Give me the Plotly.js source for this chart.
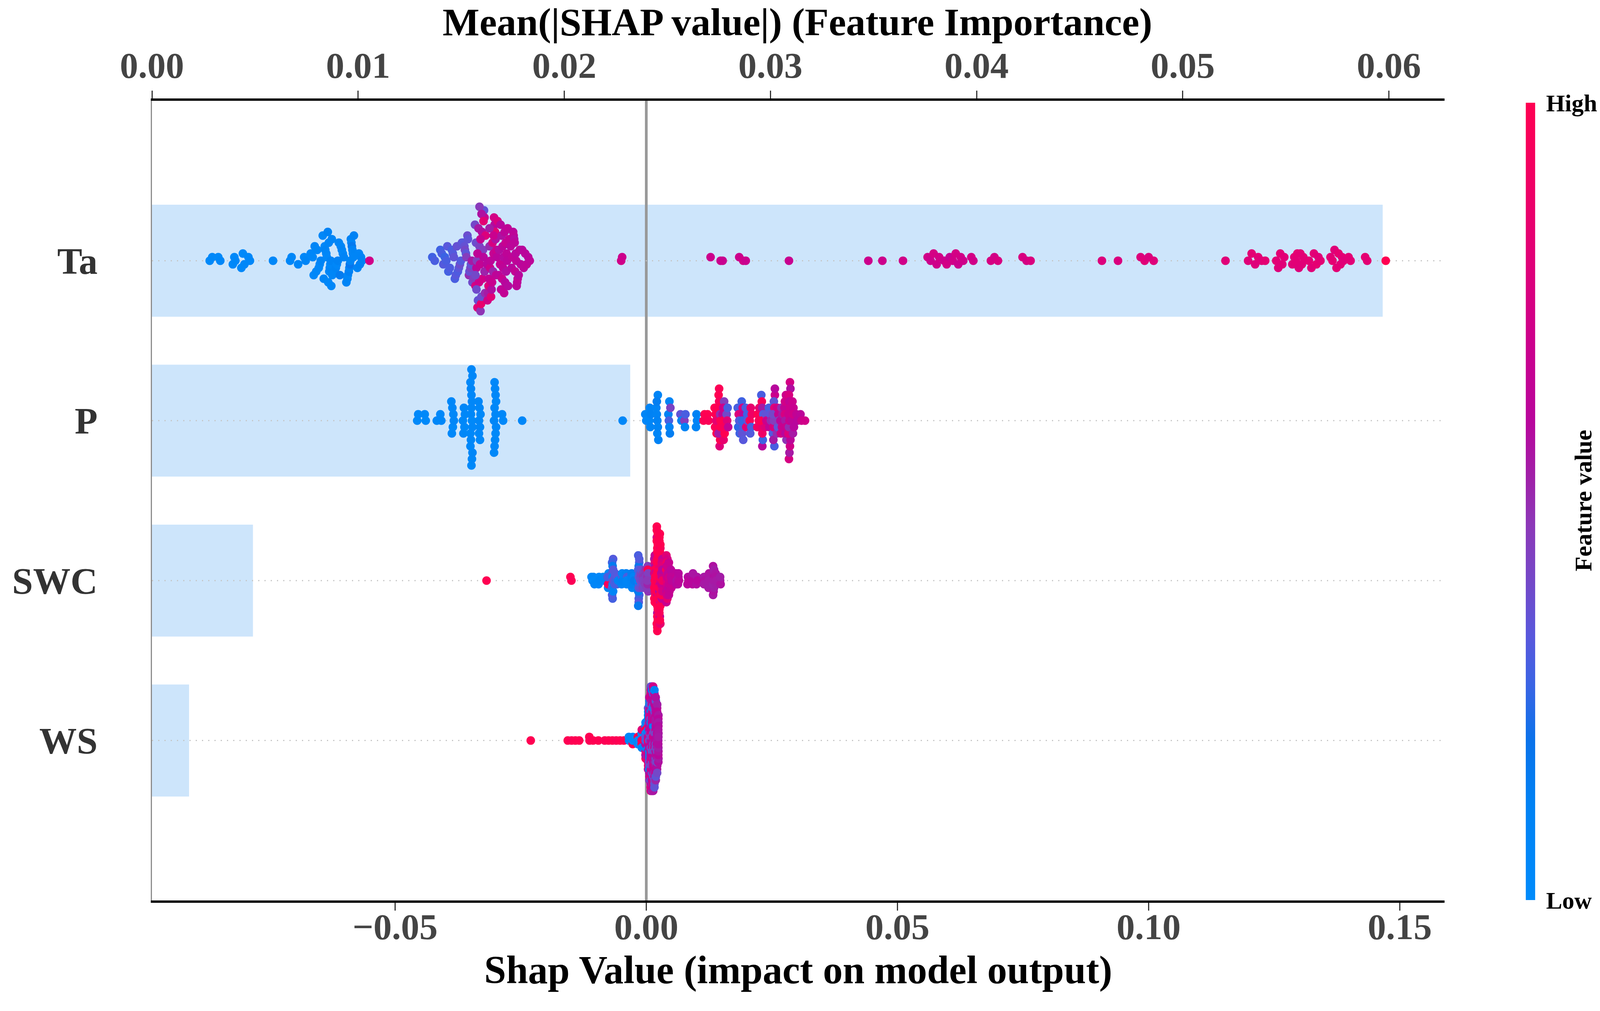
<!DOCTYPE html>
<html>
<head>
<meta charset="utf-8">
<script src="https://cdn.plot.ly/plotly-3.0.1.min.js"></script>
<style>html,body{margin:0;padding:0;background:#fff;overflow:hidden;}#chart{width:4172px;height:2588px;}</style>
</head>
<body>
<div id="chart"></div>
<script>
// ---------------- DATA ----------------
const FEATURES = ['Ta', 'P', 'SWC', 'WS'];
const MEAN_ABS_SHAP = [0.0597, 0.0232, 0.0049, 0.0018];
const TOP_TICK_LABELS = ['0.00', '0.01', '0.02', '0.03', '0.04', '0.05', '0.06'];
const BOTTOM_TICK_LABELS = ['\u22120.05', '0.00', '0.05', '0.10', '0.15'];
const TOP_TITLE = 'Mean(|SHAP value|) (Feature Importance)';
const BOTTOM_TITLE = 'Shap Value (impact on model output)';
const COLORBAR_TITLE = 'Feature value';

// Ta: SHAP values and normalised feature values (0 = low, 1 = high)
const taShap = [
  -0.0869,-0.0864,-0.0852,-0.0848,-0.0823,-0.0820,-0.0818,-0.0806,-0.0803,-0.0800,-0.0792,-0.0789,-0.0743,-0.0709,-0.0706,-0.0693,-0.0681,-0.0678,
  -0.0668,-0.0664,-0.0662,-0.0660,-0.0657,-0.0655,-0.0652,-0.0650,-0.0648,
  -0.0644,-0.0642,-0.0640,-0.0639,-0.0637,-0.0636,-0.0634,-0.0633,-0.0632,-0.0631,-0.0630,-0.0629,-0.0628,-0.0627,-0.0626,-0.0625,
  -0.0620,-0.0618,-0.0616,-0.0614,-0.0612,-0.0610,-0.0608,-0.0606,-0.0604,-0.0602,
  -0.0597,-0.0595,-0.0594,-0.0592,-0.0591,-0.0590,-0.0589,-0.0588,-0.0587,-0.0586,-0.0585,-0.0584,-0.0583,-0.0582,
  -0.0575,-0.0572,-0.0570,-0.0568,-0.0566,
  -0.0551,
  -0.0426,-0.0421,
  -0.0410,-0.0407,-0.0404,-0.0401,-0.0398,-0.0396,-0.0394,-0.0391,
  -0.0387,-0.0385,-0.0383,-0.0381,-0.0379,-0.0377,-0.0375,-0.0373,-0.0371,-0.0369,-0.0367,
  -0.0364,-0.0362,-0.0361,-0.0359,-0.0358,-0.0356,-0.0355,-0.0353,-0.0352,-0.0350,-0.0349,-0.0347,-0.0346,-0.0344,
  -0.0341,-0.0340,-0.0339,-0.0338,-0.0337,-0.0336,-0.0335,-0.0334,-0.0333,-0.0332,-0.0331,-0.0330,-0.0329,-0.0328,-0.0327,
  -0.0326,-0.0325,-0.0324,-0.0323,-0.0322,-0.0321,-0.0320,-0.0340,-0.0336,-0.0332,-0.0328,-0.0324,-0.0338,-0.0330,-0.0322,
  -0.0317,-0.0316,-0.0315,-0.0314,-0.0313,-0.0312,-0.0311,-0.0310,-0.0309,-0.0308,-0.0307,-0.0306,
  -0.0305,-0.0304,-0.0303,-0.0302,-0.0301,-0.0300,-0.0299,-0.0298,-0.0297,-0.0296,-0.0312,-0.0304,
  -0.0294,-0.0293,-0.0291,-0.0290,-0.0289,-0.0288,-0.0287,-0.0286,-0.0285,-0.0284,
  -0.0283,-0.0282,-0.0281,-0.0280,-0.0279,-0.0278,-0.0277,-0.0276,-0.0275,-0.0273,
  -0.0270,-0.0268,-0.0267,-0.0265,-0.0264,-0.0263,-0.0262,-0.0261,-0.0260,-0.0259,-0.0258,-0.0257,-0.0256,-0.0254,-0.0252,-0.0250,
  -0.0247,-0.0244,-0.0241,-0.0238,-0.0235,-0.0232,
  -0.0050,-0.0048,
  0.0128, 0.0148,0.0152, 0.0185,0.0193,0.0198, 0.0284, 0.0442, 0.0470, 0.0511,
  0.0560,0.0566,0.0572,0.0578,0.0583,
  0.0593,0.0598,0.0604,0.0610,0.0616,0.0621,0.0626,0.0631,
  0.0647,0.0651, 0.0686,0.0693,0.0700, 0.0749,0.0757,0.0765, 0.0907, 0.0939,
  0.0984,0.0992,0.1000,0.1010, 0.1153,
  0.1198,0.1205,0.1212,0.1218,0.1225,0.1232,
  0.1254,0.1258,0.1262,0.1266,0.1270,
  0.1286,0.1290,0.1293,0.1296,0.1299,0.1302,0.1305,0.1308,
  0.1319,0.1324,0.1329,0.1334,0.1338,0.1342,
  0.1362,0.1366,0.1370,0.1374,0.1378,0.1382,0.1385,0.1388,
  0.1398,0.1402, 0.1431,0.1435, 0.1472
];
const taVal = [
  0.03,0.04,0.03,0.05,0.04,0.03,0.05,0.04,0.03,0.06,0.04,0.05,0.05,0.06,0.05,0.07,0.06,0.08,
  0.05,0.06,0.04,0.08,0.05,0.07,0.06,0.05,0.09,
  0.06,0.08,0.05,0.10,0.07,0.06,0.12,0.05,0.08,0.07,0.09,0.06,0.11,0.05,0.08,0.07,
  0.07,0.09,0.06,0.12,0.08,0.15,0.07,0.10,0.06,0.09,
  0.08,0.10,0.07,0.13,0.09,0.18,0.08,0.11,0.07,0.16,0.09,0.10,0.08,0.12,
  0.10,0.08,0.12,0.09,0.11,
  0.72,
  0.28,0.30,
  0.28,0.30,0.32,0.27,0.30,0.33,0.29,0.31,
  0.30,0.32,0.35,0.30,0.33,0.36,0.31,0.34,0.38,0.32,0.35,
  0.33,0.36,0.40,0.34,0.45,0.38,0.35,0.50,0.37,0.42,0.36,0.55,0.39,0.44,
  0.40,0.75,0.38,0.62,0.45,0.80,0.36,0.55,0.70,0.42,0.65,0.48,0.85,0.38,0.58,
  0.72,0.44,0.60,0.35,0.68,0.50,0.78,0.40,0.63,0.46,0.57,0.82,0.39,0.66,0.52,
  0.60,0.72,0.55,0.78,0.65,0.50,0.70,0.62,0.80,0.58,0.68,0.75,
  0.52,0.66,0.73,0.60,0.82,0.57,0.64,0.70,0.61,0.76,0.54,0.69,
  0.62,0.58,0.66,0.60,0.64,0.57,0.68,0.61,0.63,0.59,
  0.65,0.62,0.60,0.67,0.58,0.63,0.61,0.64,0.59,0.66,
  0.62,0.60,0.64,0.61,0.63,0.59,0.62,0.65,0.60,0.63,0.61,0.62,0.64,0.60,0.63,0.61,
  0.60,0.62,0.61,0.63,0.60,0.62,
  0.72,0.70,
  0.70, 0.70,0.68, 0.70,0.72,0.69, 0.68, 0.70, 0.70, 0.72,
  0.72,0.70,0.74,0.71,0.73,
  0.70,0.73,0.66,0.72,0.74,0.69,0.73,0.71,
  0.74,0.72, 0.75,0.73,0.76, 0.76,0.74,0.77, 0.78, 0.77,
  0.78,0.80,0.77,0.79, 0.80,
  0.80,0.82,0.79,0.81,0.80,0.82,
  0.81,0.79,0.82,0.80,0.81,
  0.80,0.82,0.81,0.83,0.79,0.82,0.80,0.81,
  0.82,0.80,0.81,0.83,0.80,0.82,
  0.81,0.83,0.80,0.82,0.84,0.81,0.82,0.80,
  0.82,0.81, 0.83,0.82, 1.00
];

// P
const pShap = [
  -0.0456,-0.0454, -0.0441,-0.0439, -0.0417, -0.0410,-0.0408,
  -0.0388,-0.0387,-0.0386,-0.0385,-0.0384,-0.0383,
  -0.0365,-0.0364,-0.0363,-0.0362,-0.0361,
  -0.0350,-0.0349,-0.0348,-0.0347,-0.0346,-0.0350,-0.0349,-0.0348,-0.0347,-0.0346,-0.0350,-0.0349,-0.0348,-0.0347,-0.0346,-0.0348,
  -0.0334,-0.0333,-0.0332,-0.0331,-0.0330,-0.0333,-0.0331,
  -0.0303,-0.0302,-0.0301,-0.0300,-0.0299,-0.0303,-0.0302,-0.0301,-0.0300,-0.0299,-0.0302,-0.0300,
  -0.0287,-0.0285, -0.0247, -0.0047,
  -0.0002,0.0000, 0.0006,0.0007,0.0008,0.0009,
  0.0020,0.0021,0.0022,0.0023,0.0024,0.0021,0.0022,0.0023,
  0.0044,0.0045,0.0046,0.0047,0.0048,0.0046,
  0.0068,0.0070, 0.0076,0.0077,0.0078, 0.0099,0.0100,0.0101,
  0.0114,0.0116, 0.0122,0.0124,
  0.0136,0.0137,0.0138,0.0139,0.0140,
  0.0144,0.0145,0.0146,0.0147,0.0148,0.0145,0.0146,0.0147,0.0144,0.0148,
  0.0152,0.0153,0.0154,0.0155,0.0156,0.0153,0.0155,
  0.0160,0.0161,0.0162,0.0163,
  0.0182,0.0183,0.0184,0.0185,0.0186,
  0.0190,0.0191,0.0192,0.0193,0.0194,0.0191,0.0193,
  0.0198,0.0199,0.0201,0.0202,
  0.0206,0.0207,0.0208,0.0209,0.0210,
  0.0221,0.0222,0.0224,0.0225,
  0.0229,0.0230,0.0231,0.0232,0.0233,0.0230,0.0231,0.0232,0.0231,
  0.0237,0.0238,0.0239,
  0.0244,0.0245,0.0247,0.0248,
  0.0252,0.0253,0.0254,0.0255,0.0256,0.0253,0.0254,0.0255,0.0252,0.0256,
  0.0260,0.0261,0.0262,0.0263,0.0264,
  0.0267,0.0268,0.0269,0.0270,0.0271,
  0.0275,0.0276,0.0277,0.0278,0.0279,0.0276,0.0277,0.0278,
  0.0283,0.0284,0.0285,0.0286,0.0287,0.0283,0.0284,0.0285,0.0286,0.0287,0.0284,0.0285,0.0286,
  0.0290,0.0291,0.0292,0.0293,0.0294,0.0292,
  0.0299,0.0301, 0.0307,0.0309, 0.0316
];
const pVal = [
  0.03,0.04, 0.04,0.03, 0.05, 0.04,0.06,
  0.05,0.04,0.06,0.03,0.05,0.07,
  0.04,0.06,0.05,0.03,0.05,
  0.04,0.06,0.03,0.05,0.07,0.04,0.05,0.06,0.03,0.05,0.04,0.07,0.05,0.06,0.04,0.05,
  0.05,0.04,0.06,0.05,0.03,0.06,0.04,
  0.04,0.06,0.05,0.03,0.05,0.07,0.04,0.05,0.06,0.04,0.05,0.06,
  0.05,0.04, 0.05, 0.06,
  0.08,0.06, 0.07,0.10,0.08,0.12,
  0.08,0.10,0.12,0.09,0.11,0.14,0.07,0.10,
  0.12,0.30,0.10,0.14,0.42,0.11,
  0.35,0.12, 0.45,0.10,0.30, 0.10,0.12,0.09,
  0.98,1.00, 1.00,0.97,
  1.00,0.98,1.00,0.85,1.00,
  1.00,0.95,1.00,0.50,1.00,0.98,0.80,1.00,0.55,1.00,
  0.60,1.00,0.85,0.45,1.00,0.70,0.95,
  0.40,0.80,0.30,0.65,
  0.30,0.25,0.78,0.32,0.28,
  0.28,0.35,0.75,0.30,0.60,0.26,0.33,
  0.30,0.80,0.28,0.35,
  0.95,0.32,0.85,0.30,0.90,
  0.90,1.00,0.95,0.85,
  0.30,0.95,0.55,0.85,0.32,1.00,0.60,0.28,0.90,
  0.80,0.35,0.70,
  0.30,0.65,0.35,0.50,
  0.32,0.75,0.45,0.30,0.70,0.55,0.35,0.80,0.40,0.60,
  0.50,0.72,0.35,0.65,0.45,
  0.60,0.72,0.50,0.68,0.55,
  0.65,0.75,0.55,0.70,0.48,0.72,0.60,0.68,
  0.70,0.75,0.55,0.72,0.62,0.78,0.50,0.68,0.74,0.58,0.76,0.65,0.70,
  0.62,0.70,0.55,0.68,0.60,0.72,
  0.65,0.60, 0.62,0.70, 0.72
];

// SWC
const swcShap = [
  -0.0318, -0.0151,-0.0149,
  -0.0109,-0.0107, -0.0105,-0.0104,-0.0103, -0.0095,-0.0094,-0.0093, -0.0086,-0.0084,
  -0.0077,-0.0076,-0.0075,-0.0076,-0.0077,
  -0.0068,-0.0067,-0.0066,-0.0068,-0.0067,-0.0066,-0.0068,-0.0067,-0.0066,-0.0067,-0.0068,-0.0066,
  -0.0063,-0.0062,-0.0061,-0.0062, -0.0058,-0.0057,-0.0056,
  -0.0049,-0.0048,-0.0047,-0.0048, -0.0040,-0.0039,-0.0038,-0.0039,
  -0.0030,-0.0029,-0.0028,-0.0029,-0.0030, -0.0026,-0.0025,-0.0024,
  -0.0016,-0.0015,-0.0014,-0.0016,-0.0015,-0.0014,-0.0016,-0.0015,-0.0014,-0.0015,-0.0016,-0.0014,-0.0015,-0.0016,-0.0014,
  -0.0012,-0.0011,-0.0010,-0.0011,-0.0012,-0.0010,
  -0.0007,-0.0006,-0.0005,-0.0006,-0.0007,
  -0.0002,-0.0001,0.0000,-0.0001,-0.0002,0.0000,
  0.0002,0.0003,0.0004,0.0003,0.0002,0.0004,0.0003,0.0002,
  0.0016,0.0017,0.0018,0.0017,0.0016,0.0018,0.0017,0.0016,0.0018,0.0017,0.0016,0.0018,0.0017,0.0017,
  0.0021,0.0022,0.0023,0.0022,0.0021,0.0023,0.0022,0.0021,0.0023,0.0022,0.0021,0.0023,0.0022,0.0021,0.0023,
  0.0022,0.0021,0.0023,0.0022,0.0021,0.0023,0.0022,0.0021,0.0023,0.0022,0.0021,0.0023,0.0022,0.0022,0.0022,
  0.0026,0.0027,0.0028,0.0027,0.0026,0.0028,0.0027,0.0026,0.0028,0.0027,0.0026,0.0028,0.0027,
  0.0026,0.0028,0.0027,0.0026,0.0028,0.0027,0.0026,0.0028,0.0027,0.0026,0.0028,0.0027,0.0027,
  0.0030,0.0031,0.0032,0.0031,0.0030,0.0032,0.0031,0.0030,0.0032,0.0031,0.0030,0.0032,
  0.0040,0.0041,0.0042,0.0041,0.0040,0.0042,0.0041,0.0040,0.0042,0.0041,0.0040,0.0042,0.0041,0.0041,
  0.0044,0.0045,0.0046,0.0045,0.0044,0.0046,0.0045,0.0044,0.0046,0.0045,
  0.0049,0.0050,0.0051,0.0050,0.0049,0.0051,
  0.0059,0.0060,0.0059,0.0060, 0.0063,0.0064,0.0065,0.0064,
  0.0082,0.0083,0.0084, 0.0091,0.0092,0.0093,0.0092, 0.0100,0.0101,0.0102,
  0.0115,0.0116,0.0115, 0.0124,0.0125,0.0124,0.0125,0.0124,
  0.0133,0.0134,0.0135,0.0134,0.0133,0.0135,0.0134,0.0133,0.0135,
  0.0138,0.0139,0.0138,0.0139, 0.0147,0.0148,0.0147
];
const swcVal = [
  1.00, 1.00,0.98,
  0.04,0.06, 0.05,0.03,0.07, 0.06,0.04,0.08, 0.05,0.07,
  0.08,0.10,0.06,0.95,0.30,
  0.30,0.10,0.32,0.28,0.15,0.33,0.30,0.12,0.35,0.29,0.31,0.08,
  0.30,0.35,0.28,0.32, 0.30,0.33,0.10,
  0.10,0.30,0.12,0.08, 0.12,0.10,0.30,0.08,
  0.10,0.12,0.08,0.14,0.10, 0.12,0.09,0.15,
  0.30,0.32,0.28,0.15,0.35,0.30,0.12,0.33,0.30,0.18,0.31,0.29,0.34,0.16,0.32,
  0.38,0.42,0.35,0.45,0.40,0.36,
  0.42,0.45,0.40,0.48,0.44,
  0.45,0.50,0.42,0.48,0.46,0.44,
  0.50,0.45,0.48,1.00,0.46,0.44,0.52,0.47,
  0.55,0.80,0.60,1.00,0.75,1.00,0.65,1.00,1.00,0.90,1.00,1.00,1.00,1.00,
  0.75,0.60,0.85,0.70,1.00,0.90,1.00,1.00,0.95,1.00,1.00,1.00,1.00,0.98,1.00,
  1.00,1.00,1.00,1.00,1.00,1.00,1.00,1.00,1.00,1.00,1.00,1.00,1.00,1.00,1.00,
  0.60,0.70,0.85,0.65,1.00,0.75,0.90,1.00,0.80,1.00,0.95,1.00,1.00,
  0.85,1.00,1.00,1.00,0.90,1.00,1.00,1.00,1.00,1.00,1.00,1.00,1.00,
  0.60,0.70,0.65,0.75,0.80,0.60,0.85,0.70,0.90,0.65,1.00,0.75,
  0.65,0.70,0.75,0.80,0.68,0.85,0.72,1.00,0.78,0.70,0.82,0.75,0.90,0.70,
  0.62,0.68,0.70,0.65,0.72,0.66,0.70,0.64,0.74,0.68,
  0.62,0.66,0.60,0.68,0.64,0.62,
  0.62,0.60,0.65,0.58, 0.60,0.58,0.62,0.60,
  0.60,0.58,0.62, 0.58,0.60,0.56,0.60, 0.58,0.56,0.60,
  0.55,0.57,0.55, 0.55,0.57,0.54,0.56,0.55,
  0.55,0.57,0.54,0.56,0.53,0.58,0.55,0.57,0.54,
  0.56,0.54,0.57,0.55, 0.55,0.57,0.54
];

// WS
const wsShap = [
  -0.02300,
  -0.01563,-0.01487,-0.01411,-0.01335,
  -0.01134,-0.01130, -0.01055,
  -0.00954,-0.00827,-0.00751,-0.00674,-0.00598,-0.00522,-0.00446,
  -0.00346,-0.00342,
  -0.00270,-0.00268,-0.00266,
  -0.00168,-0.00166,-0.00164,
  -0.00092,-0.00090,-0.00088,-0.00091,-0.00089,-0.00090,
  -0.00016,-0.00014,-0.00012,-0.00015,-0.00013,-0.00014,-0.00016,-0.00012,-0.00014,-0.00015,-0.00013,
  0.00035,0.00037,0.00039,0.00036,0.00038,0.00037,0.00035,0.00039,0.00036,0.00038,0.00037,0.00035,0.00039,0.00036,0.00038,0.00037,0.00036,0.00038,
  0.00060,0.00062,0.00064,0.00061,0.00063,0.00062,0.00060,0.00064,0.00061,0.00063,0.00062,0.00060,
  0.00064,0.00061,0.00063,0.00062,0.00060,0.00064,0.00061,0.00063,0.00062,0.00060,0.00064,0.00062,
  0.00086,0.00088,0.00090,0.00087,0.00089,0.00088,0.00086,0.00090,0.00087,0.00089,0.00088,0.00086,0.00090,0.00087,0.00089,
  0.00088,0.00086,0.00090,0.00087,0.00089,0.00088,0.00086,0.00090,0.00087,0.00089,0.00088,0.00086,0.00090,0.00087,0.00089,
  0.00111,0.00113,0.00115,0.00112,0.00114,0.00113,0.00111,0.00115,0.00112,0.00114,0.00113,0.00111,0.00115,0.00112,0.00114,
  0.00113,0.00111,0.00115,0.00112,0.00114,0.00113,0.00111,0.00115,0.00112,0.00114,0.00113,0.00111,0.00115,0.00112,0.00114,
  0.00136,0.00138,0.00140,0.00137,0.00139,0.00138,0.00136,0.00140,0.00137,0.00139,0.00138,0.00136,0.00140,0.00137,0.00139,
  0.00138,0.00136,0.00140,0.00137,0.00139,0.00138,0.00136,0.00140,0.00137,0.00139,0.00138,0.00136,0.00140,0.00137,0.00139,
  0.00162,0.00164,0.00166,0.00163,0.00165,0.00164,0.00162,0.00166,0.00163,0.00165,0.00164,0.00162,0.00166,0.00163,
  0.00165,0.00164,0.00162,0.00166,0.00163,0.00165,0.00164,0.00162,0.00166,0.00163,0.00165,0.00164,0.00162,0.00166,
  0.00187,0.00189,0.00191,0.00188,0.00190,0.00189,0.00187,0.00191,0.00188,0.00190,0.00189,0.00187,
  0.00191,0.00188,0.00190,0.00189,0.00187,0.00191,0.00188,0.00190,0.00189,0.00187,0.00191,0.00189,
  0.00213,0.00215,0.00217,0.00214,0.00216,0.00215,0.00213,0.00217,0.00214,0.00216,
  0.00215,0.00213,0.00217,0.00214,0.00216,0.00215,0.00213,0.00217,0.00214,0.00216,
  0.00238,0.00240,0.00242,0.00239,0.00241,0.00240,0.00238,0.00242,0.00239,0.00241,0.00240,0.00238,0.00242,0.00240
];
const wsVal = [
  1.00,
  1.00,0.98,1.00,1.00,
  1.00,0.97, 1.00,
  1.00,0.98,1.00,1.00,0.98,1.00,1.00,
  0.05,0.08,
  1.00,0.06,0.04,
  0.06,1.00,0.05,
  0.08,1.00,0.05,0.95,0.80,0.10,
  0.10,1.00,0.06,0.35,0.90,0.08,0.55,0.75,0.12,0.60,0.30,
  0.55,0.10,0.70,0.95,0.08,0.60,1.00,0.12,0.75,0.40,0.58,0.10,0.68,0.35,0.80,0.12,0.62,0.10,
  0.60,0.70,0.10,0.55,0.75,0.12,0.65,0.40,0.58,0.10,0.72,0.35,
  0.62,0.12,0.68,0.45,0.55,0.38,0.70,0.10,0.60,0.35,0.66,0.10,
  0.60,0.70,0.55,0.65,0.75,0.58,0.72,0.10,0.62,0.68,0.55,0.74,0.35,0.60,0.70,
  0.58,0.66,0.40,0.72,0.55,0.62,0.38,0.70,0.45,0.60,0.75,0.35,0.42,0.10,0.38,
  0.58,0.65,0.72,0.55,0.68,0.60,0.75,0.52,0.66,0.35,0.70,0.58,0.62,0.40,0.74,
  0.56,0.68,0.38,0.60,0.72,0.35,0.55,0.65,0.42,0.70,0.36,0.58,0.12,0.62,0.40,
  0.62,0.55,0.70,0.58,0.66,0.72,0.52,0.60,0.68,0.38,0.56,0.74,0.35,0.62,0.58,
  0.40,0.70,0.55,0.65,0.36,0.60,0.68,0.42,0.72,0.35,0.58,0.10,0.66,0.12,0.45,
  0.60,0.58,0.66,0.55,0.62,0.70,0.56,0.64,0.52,0.68,0.58,0.40,0.62,0.35,
  0.66,0.38,0.55,0.60,0.42,0.70,0.36,0.58,0.35,0.64,0.10,0.45,0.12,0.40,
  0.58,0.62,0.55,0.66,0.60,0.52,0.64,0.58,0.56,0.62,0.40,0.60,
  0.36,0.66,0.55,0.38,0.60,0.42,0.58,0.35,0.62,0.45,0.58,0.40,
  0.56,0.60,0.58,0.55,0.62,0.57,0.60,0.54,0.58,0.62,
  0.56,0.60,0.55,0.58,0.40,0.62,0.38,0.56,0.42,0.60,
  0.56,0.58,0.55,0.60,0.57,0.54,0.58,0.56,0.60,0.55,0.58,0.57,0.56,0.55
];

// ------------- swarm placement (binning rule of the shap beeswarm; fixed tie order within a bin) -------------
function swarmOffsets(vals, rowHeight, nbins) {
  const n = vals.length;
  const mn = Math.min(...vals), mx = Math.max(...vals);
  const quant = vals.map(v => Math.round(nbins * (v - mn) / (mx - mn + 1e-8)));
  const order = i => (i * 7919) % 1009;
  const inds = [...Array(n).keys()].sort((a, b) => (quant[a] - quant[b]) || (order(a) - order(b)));
  const ys = new Array(n).fill(0);
  let layer = 0, last = -1;
  for (const i of inds) {
    if (quant[i] !== last) layer = 0;
    ys[i] = Math.ceil(layer / 2) * ((layer % 2) * 2 - 1);
    layer += 1;
    last = quant[i];
  }
  const m = Math.max(...ys.map(y => y + 1));
  return ys.map(y => y * 0.9 * (rowHeight / m));
}

const SERIES = [[taShap, taVal], [pShap, pVal], [swcShap, swcVal], [wsShap, wsVal]];
const px = [], py = [], pc = [];
SERIES.forEach(([s, v], row) => {
  const off = swarmOffsets(s, 0.4, 100);
  s.forEach((val, i) => { px.push(val); py.push(row - off[i]); pc.push(v[i]); });
});

// ---------------- styling ----------------
const FONT = 'Liberation Serif, Times New Roman, serif';
const X_TOP_RANGE = [0, 0.0627];
const X_BOT_RANGE = [-0.0984, 0.1589];
const Y_RANGE = [4.0, -1.0];
const ROWS = FEATURES.map((_, i) => i);

const colorscale = [
  [0.00, '#008bfb'], [0.12, '#0082f4'], [0.20, '#0a72ea'], [0.27, '#3a64e4'],
  [0.33, '#5858dc'], [0.40, '#7448c8'], [0.47, '#8c38b8'], [0.53, '#a020a8'],
  [0.60, '#b8069c'], [0.70, '#cc008c'], [0.80, '#e00078'], [0.90, '#f00064'],
  [1.00, '#ff0052']
];

const gx = [], gy = [];
ROWS.forEach(r => { gx.push(X_BOT_RANGE[0], X_BOT_RANGE[1], null); gy.push(r, r, null); });

const traces = [
  { type: 'bar', orientation: 'h', x: MEAN_ABS_SHAP, y: ROWS, width: 0.7,
    marker: { color: '#cde5fb', line: { width: 0 } }, xaxis: 'x', yaxis: 'y', hoverinfo: 'skip' },
  { type: 'scatter', mode: 'lines', x: [0, 0], y: [Y_RANGE[1], Y_RANGE[0]],
    line: { color: '#999999', width: 7 }, xaxis: 'x2', yaxis: 'y', hoverinfo: 'skip' },
  { type: 'scatter', mode: 'lines', x: gx, y: gy,
    line: { color: '#c4c4c4', width: 3, dash: '3px,13px' }, xaxis: 'x2', yaxis: 'y', hoverinfo: 'skip' },
  { type: 'scatter', mode: 'markers', x: px, y: py, xaxis: 'x2', yaxis: 'y', hoverinfo: 'skip',
    marker: { size: 22, color: pc, cmin: 0, cmax: 1, colorscale: colorscale, line: { width: 0 },
      showscale: true,
      colorbar: {
        thickness: 24, thicknessmode: 'pixels',
        len: 2041, lenmode: 'pixels',
        xref: 'paper', x: (3906 - 389) / 3309, xanchor: 'left',
        yref: 'paper', y: 0.499, yanchor: 'middle',
        xpad: 0, ypad: 0, outlinewidth: 0,
        tickvals: [0, 1], ticktext: ['Low', 'High'],
        ticks: 'outside', ticklen: 16, tickcolor: 'rgba(0,0,0,0)',
        tickfont: { family: FONT, size: 62, color: '#000', weight: 'bold' }
      } } }
];

const layout = {
  width: 4172, height: 2588,
  paper_bgcolor: '#fff', plot_bgcolor: '#fff',
  showlegend: false,
  margin: { l: 389, r: 474, t: 258, b: 283, pad: 0 },
  xaxis: {
    side: 'top', range: X_TOP_RANGE,
    tickvals: TOP_TICK_LABELS.map(Number), ticktext: TOP_TICK_LABELS,
    ticks: 'outside', ticklen: 20, tickwidth: 3, tickcolor: '#333',
    showline: true, linecolor: '#000', linewidth: 6,
    showgrid: false, zeroline: false,
    ticklabelstandoff: -5,
    tickfont: { family: FONT, size: 94, color: '#444', weight: 'bold' }
  },
  xaxis2: {
    overlaying: 'x', side: 'bottom', anchor: 'y', range: X_BOT_RANGE,
    tickvals: BOTTOM_TICK_LABELS.map(t => Number(t.replace('\u2212', '-'))), ticktext: BOTTOM_TICK_LABELS,
    ticks: 'outside', ticklen: 20, tickwidth: 3, tickcolor: '#333',
    showline: true, linecolor: '#000', linewidth: 6,
    showgrid: false, zeroline: false,
    ticklabelstandoff: -40,
    tickfont: { family: FONT, size: 94, color: '#444', weight: 'bold' },
    title: { text: BOTTOM_TITLE, standoff: 26,
      font: { family: FONT, size: 101, color: '#000', weight: 'bold' } }
  },
  yaxis: {
    range: Y_RANGE, tickvals: ROWS, ticktext: FEATURES,
    ticks: '', showline: true, linecolor: '#8c8c8c', linewidth: 3,
    showgrid: false, zeroline: false,
    ticklabelstandoff: 117,
    tickfont: { family: FONT, size: 96, color: '#333', weight: 'bold' }
  },
  annotations: [
    { text: TOP_TITLE, xref: 'paper', yref: 'paper',
      x: (2041 - 389) / 3309, y: (2305 - 56) / 2047, xanchor: 'center', yanchor: 'middle',
      showarrow: false,
      font: { family: FONT, size: 100, color: '#000', weight: 'bold' } },
    { text: COLORBAR_TITLE, xref: 'paper', yref: 'paper',
      x: (4052 - 389) / 3309, y: 0.5, xanchor: 'center', yanchor: 'middle',
      textangle: -90, showarrow: false,
      font: { family: FONT, size: 62, color: '#000', weight: 'bold' } }
  ]
};

Plotly.newPlot('chart', traces, layout, { displayModeBar: false, responsive: false });
</script>
</body>
</html>
